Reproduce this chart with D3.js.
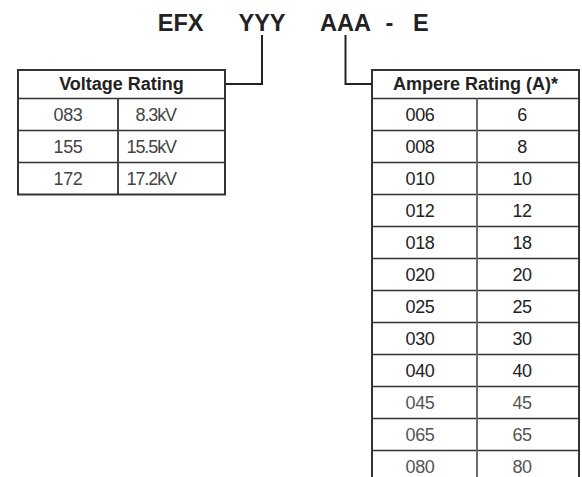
<!doctype html>
<html>
  <head>
    <title>EFX part number key</title>
    <style>
      body { margin: 0; background: #fff; }
      text { font-family: 'Liberation Sans', Arial, sans-serif; }
    </style>
  </head>
  <body>
    <svg width='582' height='477'></svg>

  <script src='https://cdn.jsdelivr.net/npm/d3@7/dist/d3.min.js'></script>
  <script>
// Part number pieces and the two lookup tables.
var titleParts = ['EFX', 'YYY', 'AAA', '-', 'E'];
var voltageHeader = 'Voltage Rating';
var voltageCodes = ['083', '155', '172'];
var voltageLabels = ['8.3kV', '15.5kV', '17.2kV'];
var ampereHeader = 'Ampere Rating (A)*';
var ampereCodes = ['006', '008', '010', '012', '018', '020', '025', '030', '040', '045', '065', '080'];
var ampereValues = [6, 8, 10, 12, 18, 20, 25, 30, 40, 45, 65, 80];

var svg = d3.select('svg');
var ink = '#222';

// Title, one word at a time so the connectors can hang off YYY and AAA.
var titleX = d3.scaleOrdinal()
  .domain(titleParts)
  .range([180.7, 262, 345.5, 389.5, 420.8]);

svg.selectAll('text.title')
  .data(titleParts)
  .enter().append('text')
  .attr('class', 'title')
  .attr('x', function(d) { return titleX(d); })
  .attr('y', 31)
  .attr('text-anchor', 'middle')
  .attr('font-size', 23.5)
  .attr('font-weight', 'bold')
  .attr('fill', ink)
  .text(function(d) { return d; });

var headerTop = 70, headerH = 28.5, rowH = 32;

function drawTable(left, right, split, header, codes, labels, opts) {
  var g = svg.append('g');
  var y = d3.scaleBand()
    .domain(d3.range(codes.length))
    .range([headerTop + headerH, headerTop + headerH + rowH * codes.length])
    .paddingInner(0);
  var bottom = y.range()[1];

  // row lines
  g.selectAll('line.row')
    .data(d3.range(codes.length))
    .enter().append('line')
    .attr('x1', left).attr('x2', right)
    .attr('y1', function(i) { return y(i); })
    .attr('y2', function(i) { return y(i); })
    .attr('stroke', '#333')
    .attr('stroke-width', 1.5);

  // column divider
  g.append('line')
    .attr('x1', split).attr('x2', split)
    .attr('y1', headerTop + headerH).attr('y2', bottom)
    .attr('stroke', opts.splitColor)
    .attr('stroke-width', 2);

  // outer border
  g.append('rect')
    .attr('x', left).attr('y', headerTop)
    .attr('width', right - left).attr('height', bottom - headerTop)
    .attr('fill', 'none')
    .attr('stroke', '#333')
    .attr('stroke-width', 2);

  g.append('text')
    .attr('x', (left + right) / 2)
    .attr('y', headerTop + 20)
    .attr('text-anchor', 'middle')
    .attr('font-size', 18)
    .attr('font-weight', 'bold')
    .attr('fill', ink)
    .text(header);

  g.selectAll('text.code')
    .data(codes)
    .enter().append('text')
    .attr('class', 'code')
    .attr('x', left + opts.codeOffset)
    .attr('y', function(d, i) { return y(i) + rowH / 2 + 6.5; })
    .attr('text-anchor', 'middle')
    .attr('font-size', 18)
    .attr('letter-spacing', -0.4)
    .attr('fill', function(d, i) { return opts.tone(i); })
    .text(function(d) { return d; });

  g.selectAll('text.label')
    .data(labels)
    .enter().append('text')
    .attr('class', 'label')
    .attr('x', split + opts.labelOffset)
    .attr('y', function(d, i) { return y(i) + rowH / 2 + 6.5; })
    .attr('text-anchor', opts.labelAnchor)
    .attr('font-size', 18)
    .attr('letter-spacing', opts.labelSpacing)
    .attr('fill', function(d, i) { return opts.tone(i); })
    .text(function(d) { return d; });
}

drawTable(18, 225, 118, voltageHeader, voltageCodes, voltageLabels, {
  splitColor: '#444',
  codeOffset: 50,
  labelOffset: 58,
  labelAnchor: 'end',
  labelSpacing: -1.1,
  tone: function() { return '#444'; }
});

drawTable(372, 579, 477, ampereHeader, ampereCodes, ampereValues, {
  splitColor: '#6a6a6a',
  codeOffset: 48,
  labelOffset: 45,
  labelAnchor: 'middle',
  labelSpacing: -0.4,
  tone: function(i) { return i < 9 ? '#222' : '#555'; }
});

// Connectors from the title letters to each table.
var connectors = [
  [[titleX('YYY'), 35], [titleX('YYY'), 84], [225, 84]],
  [[titleX('AAA'), 35], [titleX('AAA'), 84], [372, 84]]
];
svg.selectAll('path.link')
  .data(connectors)
  .enter().append('path')
  .attr('class', 'link')
  .attr('d', d3.line())
  .attr('fill', 'none')
  .attr('stroke', ink)
  .attr('stroke-width', 2);
  </script>
  </body>
</html>
